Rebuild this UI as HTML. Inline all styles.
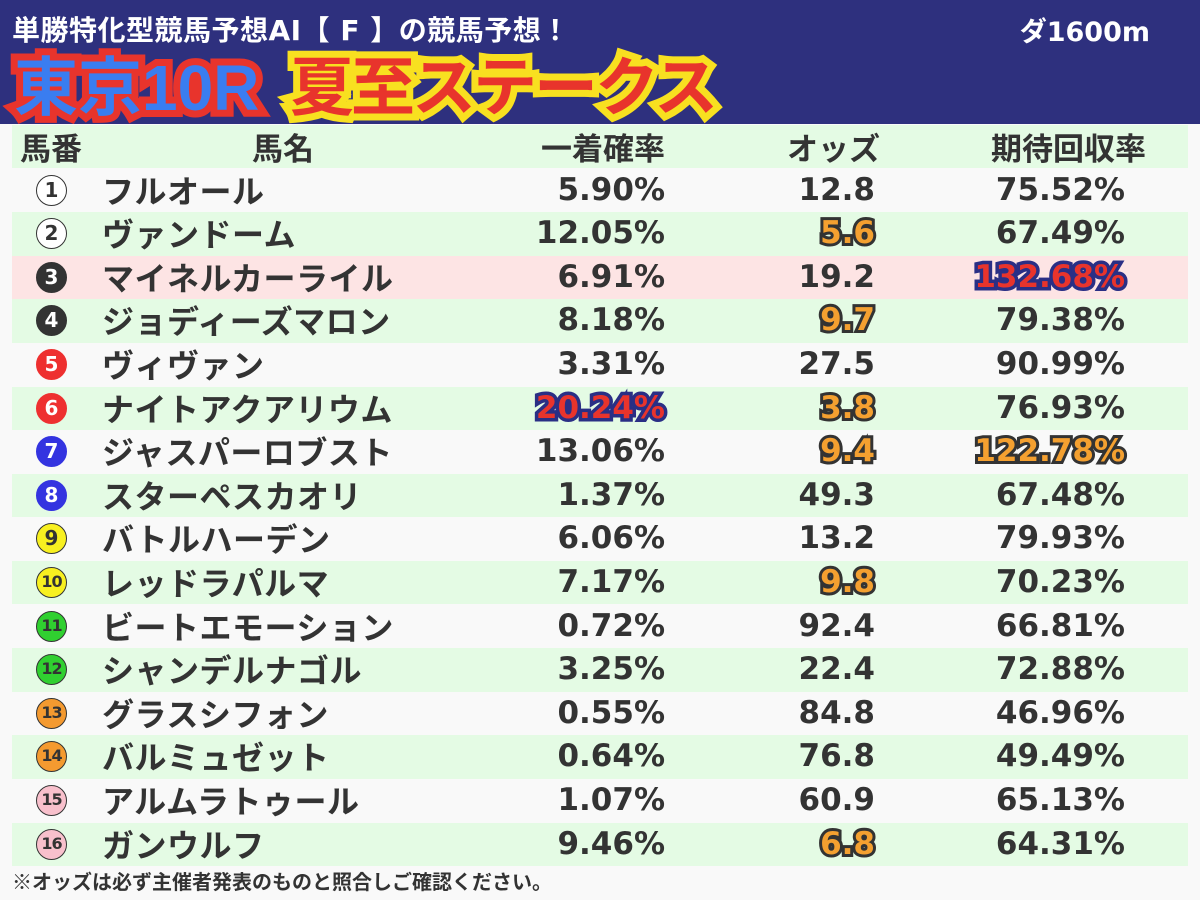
<!DOCTYPE html>
<html><head><meta charset="utf-8"><style>
body{margin:0;width:1200px;height:900px;background:#f9f9f9;position:relative;overflow:hidden;font-family:"DejaVu Sans","Noto Sans CJK JP",sans-serif;font-weight:bold;color:#333}
.hdr{position:absolute;left:0;top:0;width:1200px;height:124px;background:#2e307e}
.t1{position:absolute;left:12px;top:9px;font-size:28px;color:#fff;white-space:nowrap;letter-spacing:0.5px}
.dist{position:absolute;right:50px;top:10px;font-size:27px;color:#fff}
.big{position:absolute;top:50px;font-size:64px;line-height:76px;white-space:nowrap;font-family:"Liberation Sans","Noto Sans CJK JP",sans-serif}
.b1{left:14px;color:#3a7df0}
.b1.s{-webkit-text-stroke:14px #e8342c}
.b2{left:290px;color:#e8342c;letter-spacing:-3px}
.b2.s{-webkit-text-stroke:14px #f8e020}
.row{position:absolute;left:12px;width:1176px;height:43.6px}
.c{position:absolute;top:0;line-height:43.6px;font-size:31px;white-space:nowrap}
.num{position:absolute;left:24px;top:6px;width:31px;height:31px;border-radius:50%;border:1.5px solid #333;box-sizing:border-box;text-align:center;line-height:28px;font-size:20px;font-family:"DejaVu Sans",sans-serif}
.sm{font-size:16px;letter-spacing:-1px}
.n{left:90px;font-family:"Noto Sans CJK JP",sans-serif;font-size:32px;letter-spacing:0.5px}
.p{right:523px}
.o{right:313px}
.r{right:63px}
.hl{color:#f4a030}
.hl.s{-webkit-text-stroke:6px #333;color:#333}
.hb{color:#e8342c}
.hb.s{-webkit-text-stroke:7px #2a2f85;color:#2a2f85}
.foot{position:absolute;left:12px;top:866px;font-size:20px;color:#333;font-family:"Noto Sans CJK JP",sans-serif}
.hd{font-family:"Noto Sans CJK JP",sans-serif;line-height:43px;font-size:31px}
</style></head><body>
<div class="hdr"></div>
<div class="t1">単勝特化型競馬予想AI【 F 】の競馬予想！</div>
<div class="dist">ダ1600m</div>
<div class="big b1 s">東京10R</div><div class="big b1">東京10R</div>
<div class="big b2 s">夏至ステークス</div><div class="big b2">夏至ステークス</div>

<div class="row" style="top:125px;height:43px;background:#e4fbe4">
<div class="c hd" style="left:8px">馬番</div>
<div class="c hd" style="left:240px">馬名</div>
<div class="c hd" style="right:523px">一着確率</div>
<div class="c hd" style="right:308px">オッズ</div>
<div class="c hd" style="right:42px">期待回収率</div>
</div>

<div class="row" style="top:168.5px;background:#f9f9f9"><div class="num" style="background:#fff">1</div><div class="c n">フルオール</div><div class="c p">5.90%</div><div class="c o">12.8</div><div class="c r">75.52%</div></div>
<div class="row" style="top:212.1px;background:#e4fbe4"><div class="num" style="background:#fff">2</div><div class="c n">ヴァンドーム</div><div class="c p">12.05%</div><div class="c o hl s">5.6</div><div class="c o hl">5.6</div><div class="c r">67.49%</div></div>
<div class="row" style="top:255.7px;background:#fde4e4"><div class="num" style="background:#333;color:#fff">3</div><div class="c n">マイネルカーライル</div><div class="c p">6.91%</div><div class="c o">19.2</div><div class="c r hb s">132.68%</div><div class="c r hb">132.68%</div></div>
<div class="row" style="top:299.3px;background:#e4fbe4"><div class="num" style="background:#333;color:#fff">4</div><div class="c n">ジョディーズマロン</div><div class="c p">8.18%</div><div class="c o hl s">9.7</div><div class="c o hl">9.7</div><div class="c r">79.38%</div></div>
<div class="row" style="top:342.9px;background:#f9f9f9"><div class="num" style="background:#ee3030;color:#fff;border-color:#ee3030">5</div><div class="c n">ヴィヴァン</div><div class="c p">3.31%</div><div class="c o">27.5</div><div class="c r">90.99%</div></div>
<div class="row" style="top:386.5px;background:#e4fbe4"><div class="num" style="background:#ee3030;color:#fff;border-color:#ee3030">6</div><div class="c n">ナイトアクアリウム</div><div class="c p hb s">20.24%</div><div class="c p hb">20.24%</div><div class="c o hl s">3.8</div><div class="c o hl">3.8</div><div class="c r">76.93%</div></div>
<div class="row" style="top:430.1px;background:#f9f9f9"><div class="num" style="background:#3434e0;color:#fff;border-color:#3434e0">7</div><div class="c n">ジャスパーロブスト</div><div class="c p">13.06%</div><div class="c o hl s">9.4</div><div class="c o hl">9.4</div><div class="c r hl s">122.78%</div><div class="c r hl">122.78%</div></div>
<div class="row" style="top:473.7px;background:#e4fbe4"><div class="num" style="background:#3434e0;color:#fff;border-color:#3434e0">8</div><div class="c n">スターペスカオリ</div><div class="c p">1.37%</div><div class="c o">49.3</div><div class="c r">67.48%</div></div>
<div class="row" style="top:517.3px;background:#f9f9f9"><div class="num" style="background:#f8f020">9</div><div class="c n">バトルハーデン</div><div class="c p">6.06%</div><div class="c o">13.2</div><div class="c r">79.93%</div></div>
<div class="row" style="top:560.9px;background:#e4fbe4"><div class="num sm" style="background:#f8f020">10</div><div class="c n">レッドラパルマ</div><div class="c p">7.17%</div><div class="c o hl s">9.8</div><div class="c o hl">9.8</div><div class="c r">70.23%</div></div>
<div class="row" style="top:604.5px;background:#f9f9f9"><div class="num sm" style="background:#30d030">11</div><div class="c n">ビートエモーション</div><div class="c p">0.72%</div><div class="c o">92.4</div><div class="c r">66.81%</div></div>
<div class="row" style="top:648.1px;background:#e4fbe4"><div class="num sm" style="background:#30d030">12</div><div class="c n">シャンデルナゴル</div><div class="c p">3.25%</div><div class="c o">22.4</div><div class="c r">72.88%</div></div>
<div class="row" style="top:691.7px;background:#f9f9f9"><div class="num sm" style="background:#f49a30">13</div><div class="c n">グラスシフォン</div><div class="c p">0.55%</div><div class="c o">84.8</div><div class="c r">46.96%</div></div>
<div class="row" style="top:735.3px;background:#e4fbe4"><div class="num sm" style="background:#f49a30">14</div><div class="c n">バルミュゼット</div><div class="c p">0.64%</div><div class="c o">76.8</div><div class="c r">49.49%</div></div>
<div class="row" style="top:778.9px;background:#f9f9f9"><div class="num sm" style="background:#f8c0cc">15</div><div class="c n">アルムラトゥール</div><div class="c p">1.07%</div><div class="c o">60.9</div><div class="c r">65.13%</div></div>
<div class="row" style="top:822.5px;background:#e4fbe4"><div class="num sm" style="background:#f8c0cc">16</div><div class="c n">ガンウルフ</div><div class="c p">9.46%</div><div class="c o hl s">6.8</div><div class="c o hl">6.8</div><div class="c r">64.31%</div></div>
<div class="foot">※オッズは必ず主催者発表のものと照合しご確認ください。</div>
</body></html>
